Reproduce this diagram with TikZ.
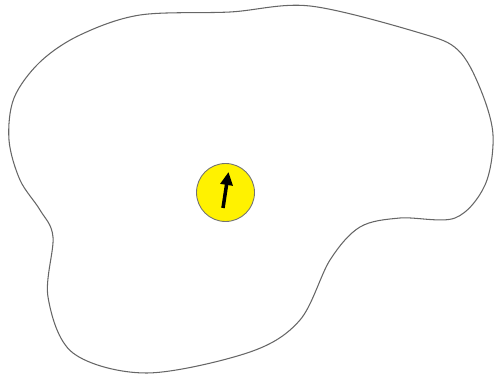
\documentclass[tikz,border=0pt]{standalone}
\usetikzlibrary{arrows.meta}
\tikzset{
  blob/.style={draw=black!60, line width=0.6pt},
  disc/.style={circle, draw=black!55, fill=yellow, line width=0.5pt, minimum size=58*0.02cm, inner sep=0pt},
  spin/.style={line width=2pt, -{Triangle[length=13*0.02cm, width=12*0.02cm]}}
}
\begin{document}
\begin{tikzpicture}[x=0.02cm, y=-0.02cm]
\useasboundingbox (0,0) rectangle (497,378);
\draw[blob] plot[smooth cycle, tension=0.55] coordinates {
  (140,15) (230,12) (310,6) (420,33) (458,50) (480,88) (493,135) (485,185)
  (455,218) (400,218) (360,227) (330,260) (300,320) (250,352) (147,373)
  (73,353) (48,297) (53,237) (40,210) (20,180) (9,140) (14,98) (40,62) (80,35)};
\node[disc] (c) at (225.5,192.5) {};
\coordinate (s) at (223,208);
\coordinate (t) at (228.5,172);
\draw[spin] (s) -- (t);
\end{tikzpicture}
\end{document}
